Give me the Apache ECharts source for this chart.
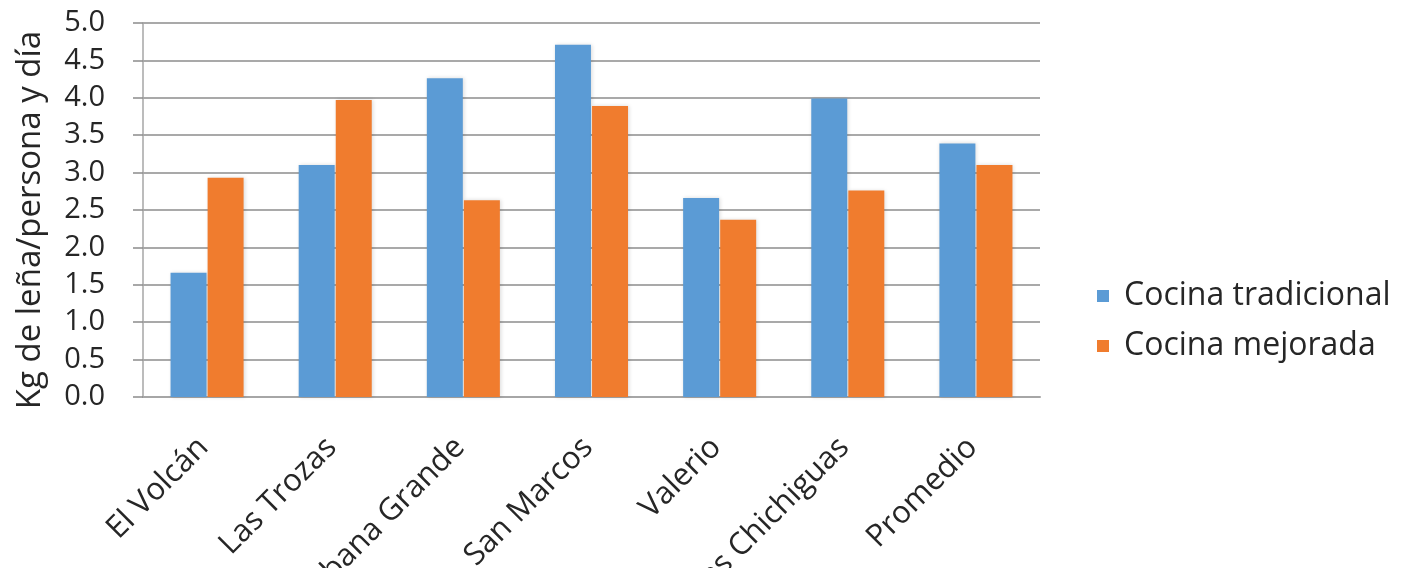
<!DOCTYPE html>
<html>
<head>
<meta charset="utf-8">
<script src="https://cdn.jsdelivr.net/npm/echarts@6/dist/echarts.min.js"></script>
<style>
  html, body { margin: 0; padding: 0; background: #ffffff; }
  #chart { width: 1418px; height: 568px; }
</style>
</head>
<body>
<div id="chart"></div>
<script>
// Firewood consumption per person and day, by community and stove type
const categories = ['El Volcán', 'Las Trozas', 'Sabana Grande', 'San Marcos', 'Valerio', 'Las Chichiguas', 'Promedio'];
const traditional = [1.66, 3.10, 4.26, 4.71, 2.66, 3.99, 3.39];
const improved = [2.93, 3.97, 2.63, 3.89, 2.37, 2.76, 3.10];
const seriesNames = ['Cocina tradicional', 'Cocina mejorada'];
const yTitle = 'Kg de leña/persona y día';

const FONT = '"Open Sans", sans-serif';
const TEXT = '#262626';

const chart = echarts.init(document.getElementById('chart'), null, { renderer: 'canvas' });
chart.setOption({
  animation: false,
  backgroundColor: '#ffffff',
  grid: { left: 143, right: 378, top: 23, bottom: 171, containLabel: false, outerBoundsMode: 'none' },
  legend: {
    orient: 'vertical',
    left: 1092,
    top: 275,
    itemWidth: 12,
    itemHeight: 12,
    itemGap: 18,
    icon: 'rect',
    textStyle: { fontFamily: FONT, fontSize: 32, lineHeight: 32, color: TEXT, padding: [0, 0, 0, 10] },
    data: seriesNames
  },
  xAxis: {
    type: 'category',
    data: categories,
    axisLine: { show: true, lineStyle: { color: '#a6a6a6', width: 2 } },
    axisTick: { show: false },
    axisLabel: {
      interval: 0,
      rotate: 45,
      margin: 42,
      fontFamily: FONT,
      fontSize: 31,
      color: TEXT,
      padding: [0, 5, 0, 0]
    }
  },
  yAxis: {
    type: 'value',
    min: 0,
    max: 5,
    interval: 0.5,
    name: yTitle,
    nameLocation: 'middle',
    nameGap: 96,
    nameTextStyle: { fontFamily: FONT, fontSize: 33, color: TEXT, padding: [0, 20, 0, 0] },
    axisLine: { show: true, lineStyle: { color: '#a6a6a6', width: 1.5 } },
    axisTick: { show: true, length: 10, lineStyle: { color: '#8c8c8c', width: 1.5 } },
    axisLabel: {
      margin: 38,
      fontFamily: FONT,
      fontSize: 29,
      color: TEXT,
      formatter: v => v.toFixed(1)
    },
    splitLine: { show: true, lineStyle: { color: '#8c8c8c', width: 1.5 } }
  },
  series: [
    {
      name: seriesNames[0],
      type: 'bar',
      data: traditional,
      barGap: '3%',
      barCategoryGap: '43%',
      itemStyle: { color: '#5B9BD5', shadowColor: 'rgba(0,0,0,0.15)', shadowBlur: 4, shadowOffsetX: 1 }
    },
    {
      name: seriesNames[1],
      type: 'bar',
      data: improved,
      itemStyle: { color: '#F07C2E', shadowColor: 'rgba(0,0,0,0.15)', shadowBlur: 4, shadowOffsetX: 1 }
    }
  ]
});
</script>
</body>
</html>
